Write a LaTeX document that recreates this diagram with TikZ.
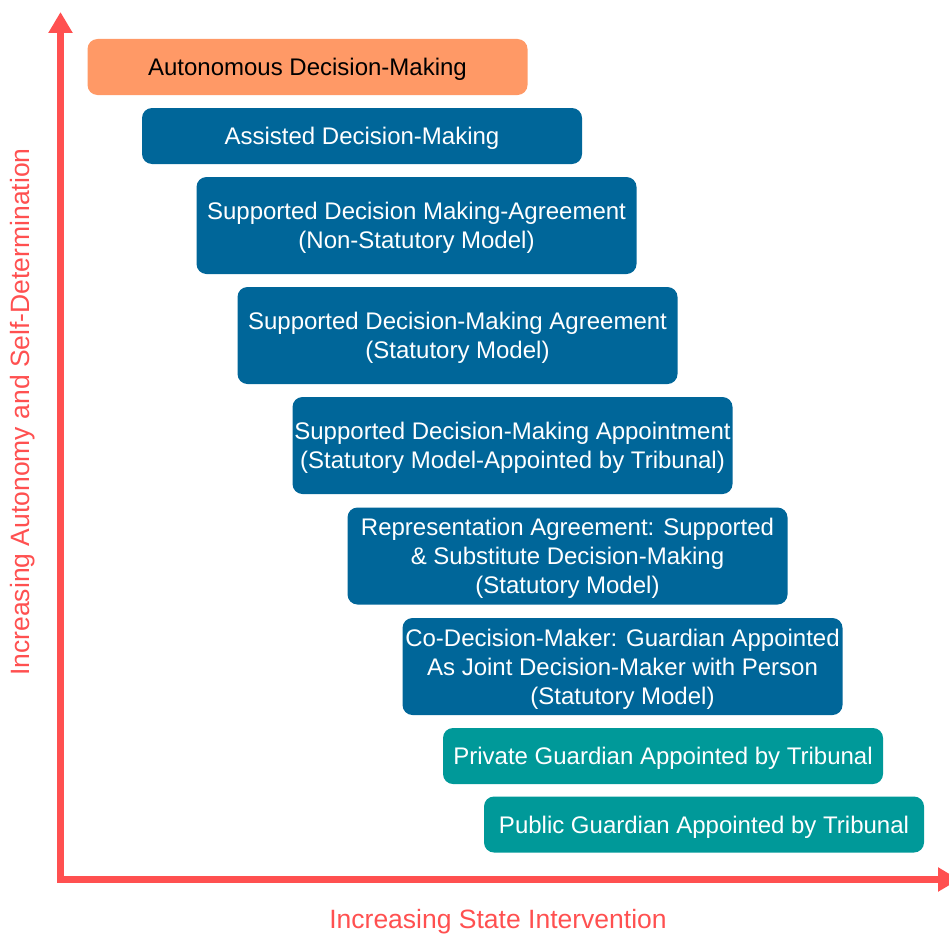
\documentclass[tikz,border=0pt]{standalone}
\usepackage{fontspec}
\setmainfont{Liberation Sans}
\usetikzlibrary{arrows.meta}
\definecolor{stateorange}{RGB}{255,153,102}
\definecolor{stateblue}{RGB}{0,102,153}
\definecolor{stateteal}{RGB}{0,153,153}
\definecolor{statered}{RGB}{255,80,80}
\begin{document}
\begin{tikzpicture}[x=1pt,y=-1pt,
	every node/.style={font=\fontsize{24}{29}\selectfont,align=center,inner sep=0},
	box/.style={rounded corners=10pt,minimum width=440pt,text depth=0pt,text=white,fill=stateblue},
	short/.style={box,minimum height=56pt},
	tall/.style={box,minimum height=97pt},
	axislabel/.style={text=statered,font=\fontsize{26.5}{30}\selectfont},
	axis/.style={statered,line width=7pt,{Triangle[width=23pt,length=21pt]}-{Triangle[width=23pt,length=21pt]}}]
\useasboundingbox (0,0) rectangle (949,934);
\node[short,fill=stateorange,text=black] (auto) at (307.5,67) {Autonomous Decision-Making};
\node[short] (assist) at (362,136) {Assisted Decision-Making};
\node[tall] (sdmns) at (416.5,225.5) {Supported Decision Making-Agreement\\(Non-Statutory Model)};
\node[tall] (sdmst) at (457.5,335.5) {Supported Decision-Making Agreement\\(Statutory Model)};
\node[tall] (sdmapp) at (512.5,445.5) {Supported Decision-Making Appointment\\(Statutory Model-Appointed by Tribunal)};
\node[tall] (repr) at (567.5,556) {Representation Agreement: Supported\\\& Substitute Decision-Making\\(Statutory Model)};
\node[tall] (codm) at (622.5,666.5) {Co-Decision-Maker: Guardian Appointed\\As Joint Decision-Maker with Person\\(Statutory Model)};
\node[short,fill=stateteal] (private) at (663,756) {Private Guardian Appointed by Tribunal};
\node[short,fill=stateteal] (public) at (704,824.5) {Public Guardian Appointed by Tribunal};
% axes
\coordinate (ytip) at (60.5,12);
\coordinate (xtip) at (959,879.5);
\draw[axis] (ytip) |- (xtip);
\node[axislabel,rotate=90] (ylabel) at (23,412) {Increasing Autonomy and Self-Determination};
\node[axislabel] (xlabel) at (498,922) {Increasing State Intervention};
\end{tikzpicture}
\end{document}
